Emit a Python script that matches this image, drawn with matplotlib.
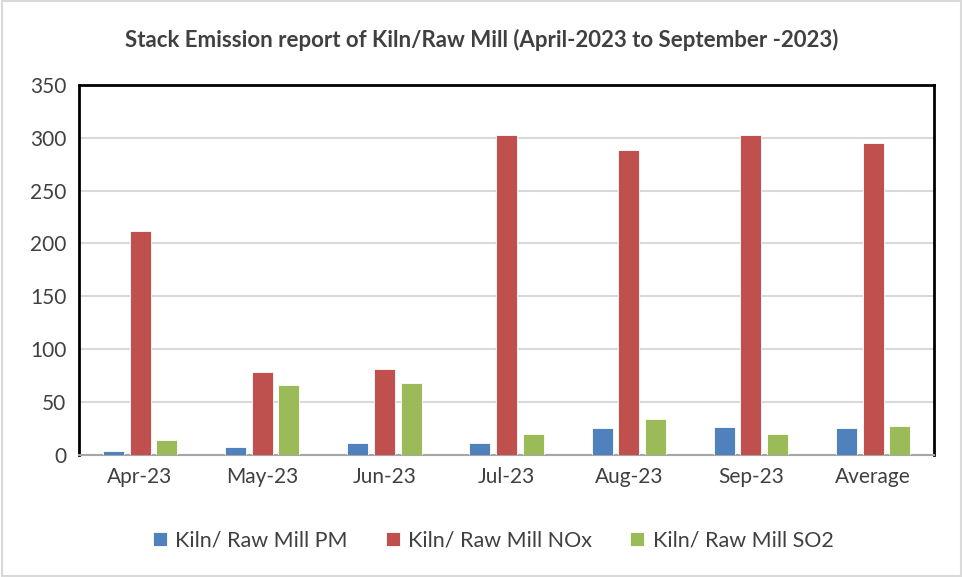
import matplotlib.pyplot as plt
import numpy as np
from matplotlib.patches import Rectangle

plt.rcParams['font.family'] = ['Lato', 'DejaVu Sans']

months = ["Apr-23", "May-23", "Jun-23", "Jul-23", "Aug-23", "Sep-23", "Average"]
pm = [3.3, 7.1, 10.6, 10.6, 24.8, 26.3, 25.4]
nox = [211.6, 78.2, 81.3, 302.8, 288.0, 302.5, 295.3]
so2 = [13.7, 65.5, 67.4, 19.4, 33.6, 19.4, 26.7]

series = [("Kiln/ Raw Mill PM", pm, "#4f81bd"),
          ("Kiln/ Raw Mill NOx", nox, "#c0504d"),
          ("Kiln/ Raw Mill SO2", so2, "#9bbb59")]

fig = plt.figure(figsize=(9.63, 5.77), dpi=100)
ax = fig.add_axes([0.082, 0.2123, 0.888, 0.6404])

x = np.arange(len(months))
width = 0.172
step = 0.218
for i, (name, vals, col) in enumerate(series):
    ax.bar(x + (i - 1) * step, vals, width, color=col, label=name,
           edgecolor="white", linewidth=0.6, zorder=3)

ax.set_xlim(-0.5, len(months) - 0.5)
ax.set_ylim(0, 350)
ax.set_yticks(range(0, 351, 50))
ax.set_xticks(x)
ax.set_xticklabels(months)
ax.tick_params(axis="both", length=0, labelsize=15, colors="#404040", pad=9)
ax.yaxis.grid(True, color="#d9d9d9", linewidth=1.5, zorder=0)

for side in ["top", "left", "right"]:
    ax.spines[side].set_color("black")
    ax.spines[side].set_linewidth(2)
ax.spines["bottom"].set_color("#a6a6a6")
ax.spines["bottom"].set_linewidth(1.5)

fig.text(0.5, 0.93, "Stack Emission report of Kiln/Raw Mill (April-2023 to September -2023)",
         ha="center", va="center", fontsize=16, fontweight="bold", color="#404040")

fig.legend(loc="center", bbox_to_anchor=(0.512, 0.063), ncol=3, frameon=False,
           fontsize=15.5, handlelength=0.65, handleheight=0.65, columnspacing=1.75,
           handletextpad=0.4, labelcolor="#404040")

fig.patches.append(Rectangle((0.002, 0.002), 0.996, 0.996, transform=fig.transFigure,
                             fill=False, edgecolor="#d9d9d9", linewidth=1.5))

fig.savefig("out.png", dpi=100)
